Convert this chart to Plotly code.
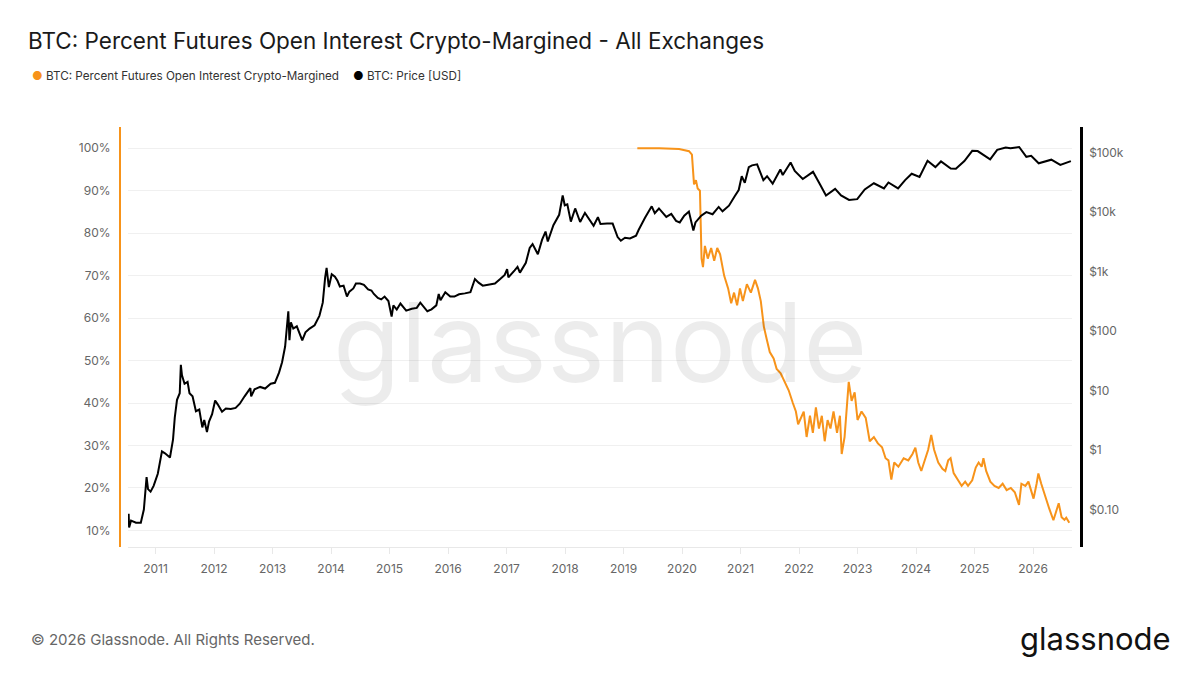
import plotly.graph_objects as go

# BTC price in USD (black line, right log axis)
price_dates = [
    "2010-07-17", "2010-07-20", "2010-08-01", "2010-09-01", "2010-10-01", "2010-10-20",
    "2010-11-06", "2010-11-15", "2010-12-01", "2010-12-20", "2011-01-15", "2011-02-10",
    "2011-03-01", "2011-03-25", "2011-04-01", "2011-04-20", "2011-05-01", "2011-05-15",
    "2011-06-01", "2011-06-08", "2011-06-15", "2011-07-01", "2011-07-20", "2011-08-01",
    "2011-08-20", "2011-09-10", "2011-10-01", "2011-10-20", "2011-11-01", "2011-11-18",
    "2011-12-01", "2011-12-20", "2012-01-08", "2012-01-25", "2012-02-20", "2012-03-15",
    "2012-04-15", "2012-05-15", "2012-06-10", "2012-07-10", "2012-08-15", "2012-08-20",
    "2012-09-10", "2012-10-15", "2012-11-15", "2012-12-20", "2013-01-15", "2013-02-10",
    "2013-03-01", "2013-03-20", "2013-04-09", "2013-04-16", "2013-04-25", "2013-05-10",
    "2013-06-01", "2013-07-05", "2013-07-25", "2013-08-20", "2013-09-20", "2013-10-20",
    "2013-11-10", "2013-11-25", "2013-12-04", "2013-12-18", "2014-01-05", "2014-01-25",
    "2014-02-10", "2014-02-25", "2014-03-20", "2014-04-10", "2014-04-25", "2014-05-20",
    "2014-06-05", "2014-07-01", "2014-07-25", "2014-08-20", "2014-09-10", "2014-09-25",
    "2014-10-20", "2014-11-10", "2014-12-01", "2014-12-25", "2015-01-14", "2015-01-25",
    "2015-02-15", "2015-03-10", "2015-04-15", "2015-05-20", "2015-06-20", "2015-07-12",
    "2015-08-25", "2015-09-20", "2015-10-20", "2015-11-04", "2015-11-15", "2015-12-15",
    "2016-01-15", "2016-02-10", "2016-03-10", "2016-04-15", "2016-05-20", "2016-06-17",
    "2016-07-10", "2016-08-05", "2016-09-15", "2016-10-20", "2016-11-20", "2016-12-20",
    "2017-01-04", "2017-01-12", "2017-02-20", "2017-03-10", "2017-03-25", "2017-05-01",
    "2017-05-25", "2017-06-12", "2017-07-15", "2017-08-10", "2017-09-01", "2017-09-15",
    "2017-10-20", "2017-11-25", "2017-12-17", "2017-12-30", "2018-01-15", "2018-02-06",
    "2018-03-05", "2018-04-05", "2018-05-05", "2018-06-28", "2018-07-25", "2018-08-10",
    "2018-09-20", "2018-10-25", "2018-11-25", "2018-12-15", "2019-01-10", "2019-02-10",
    "2019-03-20", "2019-04-05", "2019-05-15", "2019-06-26", "2019-07-15", "2019-08-10",
    "2019-09-25", "2019-10-26", "2019-11-25", "2019-12-18", "2020-01-15", "2020-02-13",
    "2020-03-12", "2020-03-25", "2020-04-30", "2020-06-01", "2020-07-10", "2020-08-17",
    "2020-09-10", "2020-10-20", "2020-11-25", "2020-12-20", "2021-01-08", "2021-01-27",
    "2021-02-21", "2021-03-13", "2021-04-14", "2021-05-23", "2021-06-15", "2021-07-20",
    "2021-09-06", "2021-09-21", "2021-11-09", "2021-12-05", "2022-01-24", "2022-03-29",
    "2022-05-12", "2022-06-18", "2022-08-14", "2022-09-20", "2022-11-09", "2022-12-30",
    "2023-02-15", "2023-04-13", "2023-06-15", "2023-07-13", "2023-09-11", "2023-10-25",
    "2023-12-05", "2024-01-23", "2024-03-13", "2024-05-01", "2024-06-05", "2024-08-05",
    "2024-09-06", "2024-10-29", "2024-12-17", "2025-01-20", "2025-04-08", "2025-05-22",
    "2025-07-14", "2025-08-13", "2025-10-06", "2025-11-20", "2025-12-20", "2026-02-05",
    "2026-04-25", "2026-06-20", "2026-08-25",
]
price_usd = [
    0.085, 0.05, 0.065, 0.06, 0.06, 0.1,
    0.35, 0.22, 0.2, 0.25, 0.4, 0.95,
    0.88, 0.78, 0.75, 1.5, 3.5, 7,
    9, 27, 18, 13, 14, 9,
    8, 4.5, 4.8, 2.4, 3.2, 2,
    3, 4, 6.8, 5.8, 4.4, 5,
    4.9, 5.1, 6, 8, 11, 8,
    10.5, 11.5, 10.8, 13, 13.5, 20,
    30, 55, 215, 70, 140, 110,
    120, 70, 95, 110, 125, 180,
    300, 800, 1150, 550, 900, 820,
    700, 560, 580, 380, 460, 520,
    630, 630, 600, 500, 480, 420,
    360, 340, 380, 320, 175, 270,
    230, 290, 220, 237, 245, 300,
    215, 232, 270, 420, 330, 450,
    380, 380, 415, 430, 450, 750,
    650, 580, 610, 630, 740, 880,
    1100, 800, 1050, 1200, 960, 1400,
    2500, 2900, 1950, 3400, 4700, 3200,
    6000, 9000, 19000, 13000, 13500, 6900,
    11500, 6800, 9700, 5900, 8200, 6300,
    6400, 6400, 3800, 3300, 3700, 3600,
    4000, 5000, 8000, 12500, 9600, 11500,
    8300, 9300, 7100, 6700, 8700, 10200,
    4900, 6700, 8700, 10000, 9200, 12200,
    10300, 12800, 18500, 23500, 40000, 31000,
    57000, 61000, 63500, 34500, 40000, 30000,
    52000, 42000, 68000, 49000, 36000, 47500,
    29000, 19000, 24500, 19000, 16000, 16500,
    24000, 30500, 25000, 31400, 25000, 34500,
    44000, 39000, 73000, 57000, 71000, 54000,
    53500, 72000, 107000, 106000, 77000, 111000,
    122000, 118000, 124000, 85000, 88000, 66000,
    76000, 62000, 72000,
]

# percent of futures open interest that is crypto-margined (orange line, left axis)
oi_dates = [
    "2019-03-28", "2019-08-12", "2019-12-14", "2020-02-14", "2020-03-03", "2020-03-16",
    "2020-03-28", "2020-04-08", "2020-04-22", "2020-05-02", "2020-05-11", "2020-05-23",
    "2020-06-10", "2020-07-01", "2020-07-20", "2020-08-08", "2020-08-26", "2020-09-20",
    "2020-10-15", "2020-11-03", "2020-11-21", "2020-12-10", "2020-12-28", "2021-01-15",
    "2021-02-09", "2021-03-06", "2021-04-01", "2021-04-19", "2021-05-07", "2021-05-26",
    "2021-06-13", "2021-07-02", "2021-07-26", "2021-08-14", "2021-09-08", "2021-10-03",
    "2021-10-28", "2021-11-23", "2021-12-12", "2021-12-26", "2022-01-30", "2022-02-17",
    "2022-03-10", "2022-03-28", "2022-04-16", "2022-05-05", "2022-05-23", "2022-06-10",
    "2022-06-28", "2022-07-16", "2022-08-04", "2022-08-26", "2022-09-13", "2022-09-24",
    "2022-10-12", "2022-11-07", "2022-11-25", "2022-12-14", "2023-01-01", "2023-01-26",
    "2023-02-21", "2023-03-18", "2023-04-13", "2023-05-08", "2023-06-03", "2023-06-25",
    "2023-07-13", "2023-07-31", "2023-08-18", "2023-09-13", "2023-10-16", "2023-11-14",
    "2023-12-10", "2023-12-28", "2024-01-15", "2024-02-03", "2024-02-28", "2024-03-17",
    "2024-04-05", "2024-04-23", "2024-05-19", "2024-06-14", "2024-07-02", "2024-07-20",
    "2024-08-04", "2024-08-23", "2024-09-17", "2024-10-12", "2024-11-03", "2024-11-21",
    "2024-12-17", "2025-01-08", "2025-01-26", "2025-02-14", "2025-02-25", "2025-03-14",
    "2025-04-09", "2025-05-05", "2025-05-31", "2025-06-25", "2025-07-20", "2025-08-15",
    "2025-09-09", "2025-10-05", "2025-10-20", "2025-11-14", "2025-12-03", "2025-12-24",
    "2026-01-04", "2026-01-23", "2026-02-03", "2026-02-21", "2026-03-18", "2026-04-13",
    "2026-05-08", "2026-05-27", "2026-06-10", "2026-06-28", "2026-07-16", "2026-07-27",
    "2026-08-15",
]
oi_pct = [
    100, 100, 99.8, 99.3, 98.5, 91.5,
    92.5, 90.5, 90, 74, 72, 77,
    74, 76.5, 73.5, 76.5, 75, 70,
    67, 63.5, 66, 63, 67, 64,
    68, 66, 69, 67, 64, 58,
    55, 52, 50.5, 48, 47, 45,
    43, 40, 38, 35, 38, 32,
    37, 33, 39, 34, 37, 31,
    36, 34, 38, 33, 37, 28,
    32, 45, 40.5, 42.5, 36, 38,
    36.5, 31, 32, 30.5, 29.6, 27,
    26.5, 22, 26, 25, 27, 26.5,
    28, 29.5, 26, 24, 27, 29,
    32.5, 29, 26, 24.5, 24, 26.5,
    27, 23.5, 22, 20.5, 21.5, 20.5,
    21.8, 24.8, 26, 25, 27, 24,
    21.5, 20.5, 20, 21, 19.5, 20,
    19, 16, 21, 20.5, 21.5, 19,
    17.5, 21, 23.4, 21, 17.8, 15,
    12.4, 14.5, 16.4, 13.1, 12.5, 13,
    11.8,
]

pct_ticks = [10, 20, 30, 40, 50, 60, 70, 80, 90, 100]
pct_labels = [f"{v}%" for v in pct_ticks]
usd_ticks = [0.1, 1, 10, 100, 1000, 10000, 100000]
usd_labels = ["$0.10", "$1", "$10", "$100", "$1k", "$10k", "$100k"]
year_labels = [str(y) for y in range(2011, 2027)]
year_ticks = [f"{y}-01-01" for y in year_labels]

ORANGE = "#f7931a"
FONT = "Inter"

# the page puts the figure 8px in from the top-left corner, so lay it out
# in reference pixels minus that offset
OFF = 8
W, H = 1200, 675
ML, MT = 120 - OFF, 127 - OFF
MR = W - (1081 - OFF)
MB = H - (547 - OFF)


def px(x):
    return (x - OFF - ML) / (W - ML - MR)


def py(y):
    return (H - MB - (y - OFF)) / (H - MT - MB)


fig = go.Figure()
fig.add_trace(go.Scatter(
    x=price_dates, y=price_usd, yaxis="y2", mode="lines",
    line=dict(color="#000000", width=2), name="BTC: Price [USD]"))
fig.add_trace(go.Scatter(
    x=oi_dates, y=oi_pct, yaxis="y", mode="lines",
    line=dict(color=ORANGE, width=2),
    name="BTC: Percent Futures Open Interest Crypto-Margined"))

annotations = [
    # watermark
    dict(text="glassnode", x=px(600), y=py(342), xref="paper", yref="paper",
         showarrow=False, xanchor="center", yanchor="middle",
         font=dict(family=FONT, size=110, color="rgba(0,0,0,0.075)")),
    # legend
    dict(text=f"<span style='color:{ORANGE}'>●</span> BTC: Percent Futures Open Interest Crypto-Margined",
         x=px(30), y=py(76), xref="paper", yref="paper", showarrow=False,
         xanchor="left", yanchor="middle", font=dict(family=FONT, size=11.7, color="#333")),
    dict(text="<span style='color:#000'>●</span> BTC: Price [USD]",
         x=px(351), y=py(76), xref="paper", yref="paper", showarrow=False,
         xanchor="left", yanchor="middle", font=dict(family=FONT, size=11.7, color="#333")),
    # footer
    dict(text="© 2026 Glassnode. All Rights Reserved.", x=px(29), y=py(639),
         xref="paper", yref="paper", showarrow=False, xanchor="left", yanchor="middle",
         font=dict(family=FONT, size=15, color="#666")),
    dict(text="glassnode", x=px(1173), y=py(638), xref="paper", yref="paper",
         showarrow=False, xanchor="right", yanchor="middle",
         font=dict(family=FONT, size=31, color="#111")),
]

fig.update_layout(
    width=W, height=H,
    margin=dict(l=ML, r=MR, t=MT, b=MB),
    paper_bgcolor="white", plot_bgcolor="white",
    showlegend=False,
    font=dict(family=FONT, color="#666", size=12),
    title=dict(text="BTC: Percent Futures Open Interest Crypto-Margined - All Exchanges",
               x=(28 - OFF) / W, xanchor="left", y=1 - (41 - OFF) / H, yanchor="middle",
               font=dict(family=FONT, size=22.5, color="#1a1a1a")),
    xaxis=dict(
        type="date", domain=[px(128), px(1072)],
        range=["2010-07-13", "2026-09-01"],
        tickvals=year_ticks, ticktext=year_labels,
        showgrid=False, zeroline=False,
        showline=True, linecolor="#e8e8e8", linewidth=1,
        ticks="outside", ticklen=6, tickcolor="#e8e8e8",
        ticklabelstandoff=5,
        tickfont=dict(size=12, color="#666")),
    yaxis=dict(
        anchor="free", position=0, range=[6.1, 105],
        tickvals=pct_ticks, ticktext=pct_labels,
        showgrid=True, gridcolor="#f0f0f0", zeroline=False,
        showline=True, linecolor=ORANGE, linewidth=2,
        ticklabelstandoff=6,
        tickfont=dict(size=12, color="#666")),
    yaxis2=dict(
        overlaying="y", side="right", anchor="free", position=1,
        type="log", range=[-1.63, 5.43],
        tickvals=usd_ticks, ticktext=usd_labels,
        showgrid=False, zeroline=False,
        showline=True, linecolor="#000000", linewidth=2.5,
        ticklabelstandoff=4,
        tickfont=dict(size=12, color="#666")),
    annotations=annotations,
)

fig.write_html("out.html")
